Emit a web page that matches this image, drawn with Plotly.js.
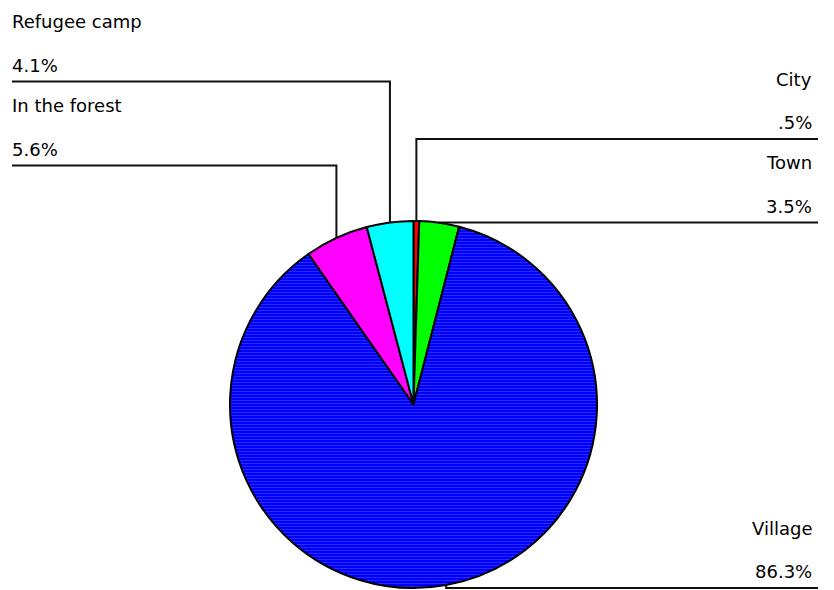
<!DOCTYPE html>
<html>
<head>
<meta charset="utf-8">
<script src="https://cdn.plot.ly/plotly-3.0.1.min.js"></script>
<style>html,body{margin:0;padding:0;background:#fff;}#chart{width:834px;height:590px;}</style>
</head>
<body>
<div id="chart"></div>
<script>
// ---- data ----
const labels = ["City", "Town", "Village", "In the forest", "Refugee camp"];
const values = [0.5, 3.5, 86.3, 5.6, 4.1];
const pctText = [".5%", "3.5%", "86.3%", "5.6%", "4.1%"];
const colors = ["#ff0000", "#00ff00", "#0000ff", "#ff00ff", "#00ffff"];

// ---- layout constants (pixels) ----
const W = 834, H = 590;
const CX = 413.5, CY = 404.5, R = 183.5;
const labelSide = ["right", "right", "right", "left", "left"];
const labelLineY = [139, 222.5, 588, 165.5, 81.5];
const LEFT_X = 12, RIGHT_TEXT_X = 812, RIGHT_LINE_X = 818;
const FONT = {family: "DejaVu Sans, Verdana, sans-serif", size: 18, color: "#000"};

const px = x => x / W;
const py = y => 1 - y / H;

const total = values.reduce((a, b) => a + b, 0);
const shapes = [];
const annotations = [];
let cum = 0;
values.forEach((v, i) => {
  const mid = (cum + v / 2) / total;   // fraction clockwise from 12 o'clock
  cum += v;
  const ang = mid * 2 * Math.PI;
  const ex = CX + R * Math.sin(ang);
  const ey = CY - R * Math.cos(ang);
  const ly = labelLineY[i];
  const endX = labelSide[i] === "left" ? LEFT_X : RIGHT_LINE_X;
  shapes.push({type: "path", xref: "paper", yref: "paper",
    path: `M ${px(ex)} ${py(ey)} L ${px(ex)} ${py(ly)} L ${px(endX)} ${py(ly)}`,
    line: {color: "#111", width: 2}});
  const tx = labelSide[i] === "left" ? LEFT_X : RIGHT_TEXT_X;
  const xa = labelSide[i] === "left" ? "left" : "right";
  annotations.push({xref: "paper", yref: "paper", x: px(tx), y: py(ly - 60), text: labels[i],
    xanchor: xa, yanchor: "middle", showarrow: false, font: FONT, borderpad: 0, borderwidth: 0});
  annotations.push({xref: "paper", yref: "paper", x: px(tx), y: py(ly - 16.5), text: pctText[i],
    xanchor: xa, yanchor: "middle", showarrow: false, font: FONT, borderpad: 0, borderwidth: 0});
});

const trace = {
  type: "pie",
  labels: labels,
  values: values,
  sort: false,
  direction: "clockwise",
  rotation: 0,
  textinfo: "none",
  hoverinfo: "label+percent",
  marker: {
    colors: colors,
    line: {color: "#000", width: 2},
    pattern: {shape: ["", "", "-", "", ""], fgcolor: "#5050ff", size: 3, solidity: 0.35, fillmode: "overlay"}
  },
  domain: {x: [px(CX - R), px(CX + R)], y: [py(CY + R), py(CY - R)]},
  showlegend: false
};

const layout = {
  width: W, height: H,
  margin: {l: 0, r: 0, t: 0, b: 0},
  paper_bgcolor: "#fff", plot_bgcolor: "#fff",
  showlegend: false,
  shapes: shapes,
  annotations: annotations
};

Plotly.newPlot("chart", [trace], layout, {displayModeBar: false, staticPlot: true});
</script>
</body>
</html>
